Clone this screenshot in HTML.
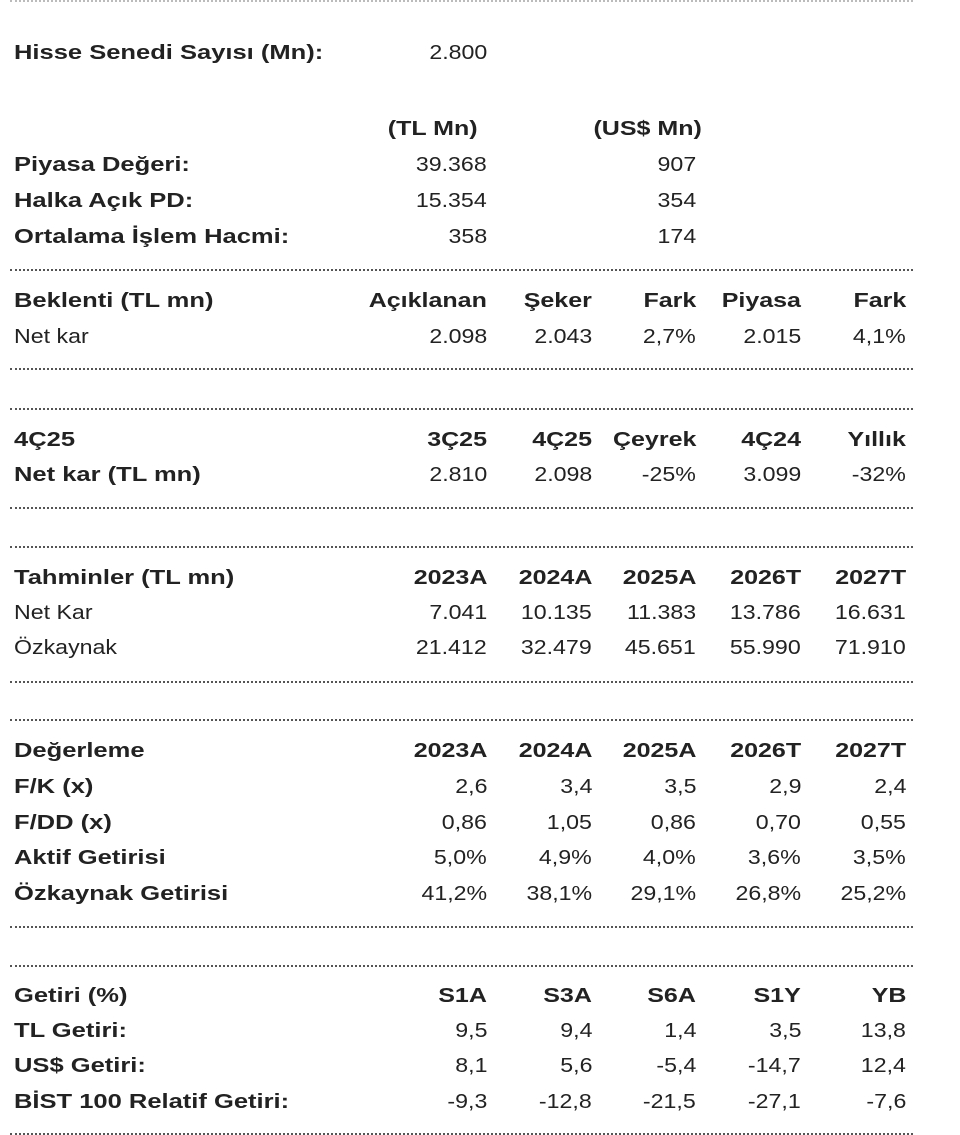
<!DOCTYPE html>
<html><head><meta charset="utf-8"><style>
body{margin:0;width:960px;height:1135px;background:#fff;position:relative;overflow:hidden;font-family:"Liberation Sans",Arial,sans-serif;color:#222;font-size:20.5px}
.t{position:absolute;white-space:nowrap;line-height:24px;transform:scaleX(1.13);transform-origin:left center}
.b{font-weight:bold;transform:scaleX(1.22)}
.lb{transform:scaleX(1.245)}
.r{transform-origin:right center}
.d{position:absolute;left:10px;width:903px;border-top:2px dotted #555;height:0}
</style></head><body>
<div class="d" style="top:0;border-color:#bbb"></div>
<div id="c"></div>
<script>
var H='';
function T(x,y,s,b,right){var pos=right?'right:'+(960-x)+'px':'left:'+x+'px';H+='<div class="t'+(b?' b':'')+(b&&!right?' lb':'')+(right?' r':'')+'" style="'+pos+';top:'+(y-12)+'px">'+s+'</div>';}
function D(y){H+='<div class="d" style="top:'+(y-1)+'px"></div>';}
var X=[487,592,696,801,906];
function row(y,label,lb,vals,vb){T(14,y,label,lb,false);vals.forEach(function(v,i){if(v!==null)T(X[i],y,v,vb,true);});}
T(14,53,'Hisse Senedi Sayısı (Mn):',1);T(487,53,'2.800',0,1);
T(478,129,'(TL Mn)',1,1);T(702,129,'(US$ Mn)',1,1);
row(165,'Piyasa Değeri:',1,['39.368',null,'907']);
row(201,'Halka Açık PD:',1,['15.354',null,'354']);
row(237,'Ortalama İşlem Hacmi:',1,['358',null,'174']);
D(270);
row(301,'Beklenti (TL mn)',1,['Açıklanan','Şeker','Fark','Piyasa','Fark'],1);
row(337,'Net kar',0,['2.098','2.043','2,7%','2.015','4,1%']);
D(369);D(409);
row(440,'4Ç25',1,['3Ç25','4Ç25','Çeyrek','4Ç24','Yıllık'],1);
row(475,'Net kar (TL mn)',1,['2.810','2.098','-25%','3.099','-32%']);
D(508);D(547);
row(578,'Tahminler (TL mn)',1,['2023A','2024A','2025A','2026T','2027T'],1);
row(613,'Net Kar',0,['7.041','10.135','11.383','13.786','16.631']);
row(648,'Özkaynak',0,['21.412','32.479','45.651','55.990','71.910']);
D(682);D(720);
row(751,'Değerleme',1,['2023A','2024A','2025A','2026T','2027T'],1);
row(787,'F/K (x)',1,['2,6','3,4','3,5','2,9','2,4']);
row(823,'F/DD (x)',1,['0,86','1,05','0,86','0,70','0,55']);
row(858,'Aktif Getirisi',1,['5,0%','4,9%','4,0%','3,6%','3,5%']);
row(894,'Özkaynak Getirisi',1,['41,2%','38,1%','29,1%','26,8%','25,2%']);
D(927);D(966);
row(996,'Getiri (%)',1,['S1A','S3A','S6A','S1Y','YB'],1);
row(1031,'TL Getiri:',1,['9,5','9,4','1,4','3,5','13,8']);
row(1066,'US$ Getiri:',1,['8,1','5,6','-5,4','-14,7','12,4']);
row(1102,'BİST 100 Relatif Getiri:',1,['-9,3','-12,8','-21,5','-27,1','-7,6']);
D(1134);
document.getElementById('c').innerHTML=H;
</script>
</body></html>
